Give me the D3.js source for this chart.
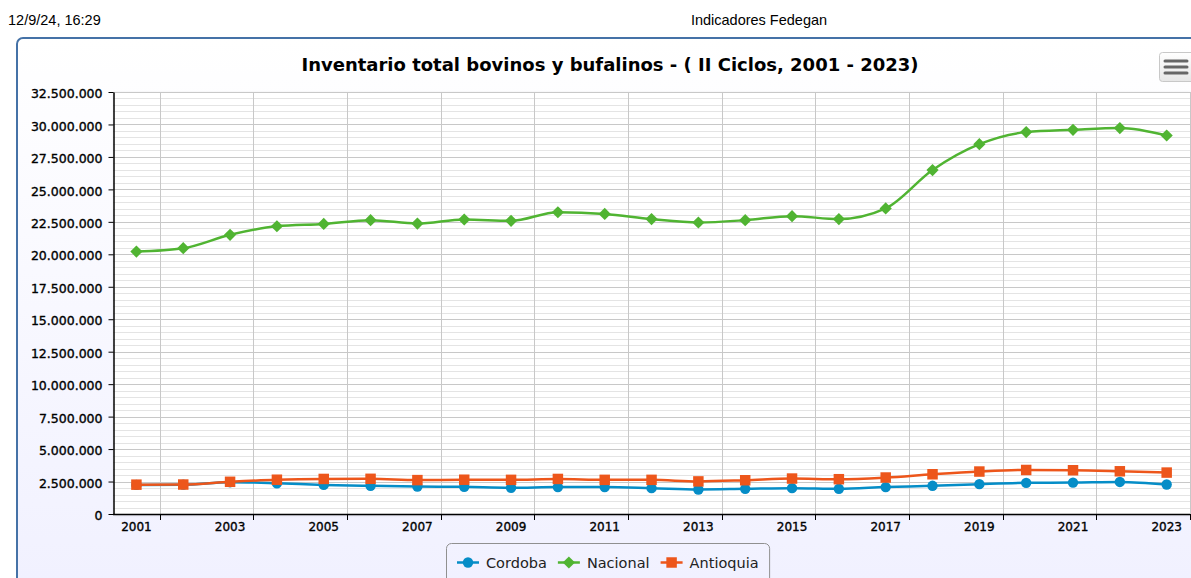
<!DOCTYPE html>
<html>
<head>
<meta charset="utf-8">
<style>
  body { margin: 0; background: #fff; }
  svg { display: block; }
  .lbl { stroke: #000; stroke-width: 0.35px; }
</style>
</head>
<body>
<script src="https://d3js.org/d3.v7.min.js"></script>
<script>

  // categories and series
  var years = ["2001", "2002", "2003", "2004", "2005", "2006", "2007", "2008",
               "2009", "2010", "2011", "2012", "2013", "2014", "2015", "2016",
               "2017", "2018", "2019", "2020", "2021", "2022", "2023"];

  var cordoba = [2240000, 2260000, 2450000, 2370000, 2240000, 2170000, 2120000, 2090000,
                 2020000, 2070000, 2070000, 1990000, 1890000, 1940000, 1990000, 1940000,
                 2070000, 2170000, 2300000, 2400000, 2420000, 2470000, 2270000];

  var nacional = [20210000, 20470000, 21500000, 22160000, 22340000, 22630000, 22370000, 22680000,
                  22580000, 23240000, 23110000, 22710000, 22450000, 22630000, 22940000, 22710000,
                  23530000, 26490000, 28480000, 29410000, 29590000, 29720000, 29150000];

  var antioquia = [2260000, 2270000, 2480000, 2640000, 2700000, 2710000, 2610000, 2640000,
                   2630000, 2700000, 2630000, 2630000, 2510000, 2600000, 2730000, 2680000,
                   2810000, 3060000, 3270000, 3390000, 3370000, 3290000, 3190000];

  var seriesNames = ["Cordoba", "Nacional", "Antioquia"];
  var seriesColors = ["#058DC7", "#50B432", "#ED561B"];
  var seriesSymbols = ["circle", "diamond", "square"];

  var yMax = 32500000;
  var yStep = 2500000;
  var yMinorStep = 500000;

  var width = 1191;
  var height = 578;
  var font = "'DejaVu Sans', Verdana, sans-serif";

  var plotLeft = 113, plotTop = 92, plotBottom = 514;
  var band = 46.83;

  var fmt = d3.formatLocale({decimal: ",", thousands: ".", grouping: [3], currency: ["$", ""]}).format(",d");

  var svg = d3.select("body").append("svg")
      .attr("width", width)
      .attr("height", height)
      .style("font-family", font);

  var defs = svg.append("defs");
  var grad = defs.append("linearGradient")
      .attr("id", "bg").attr("x1", 0).attr("y1", 0).attr("x2", 0).attr("y2", 1);
  grad.append("stop").attr("offset", "0%").attr("stop-color", "#ffffff");
  grad.append("stop").attr("offset", "100%").attr("stop-color", "#f0f0ff");

  var btnGrad = defs.append("linearGradient")
      .attr("id", "btn").attr("x1", 0).attr("y1", 0).attr("x2", 0).attr("y2", 1);
  btnGrad.append("stop").attr("offset", "0%").attr("stop-color", "#ffffff");
  btnGrad.append("stop").attr("offset", "100%").attr("stop-color", "#e6e6e6");

  var shadow = defs.append("filter").attr("id", "shadow")
      .attr("x", "-5%").attr("y", "-5%").attr("width", "110%").attr("height", "110%");
  shadow.append("feDropShadow").attr("dx", 1).attr("dy", 1).attr("stdDeviation", 1.5)
      .attr("flood-color", "#000").attr("flood-opacity", 0.15);

  // page header (print header)
  svg.append("text")
      .attr("x", 8).attr("y", 25)
      .style("font-family", "'Liberation Sans', Arial, sans-serif")
      .style("font-size", "14.5px")
      .text("12/9/24, 16:29");

  svg.append("text")
      .attr("x", 759).attr("y", 25)
      .attr("text-anchor", "middle")
      .style("font-family", "'Liberation Sans', Arial, sans-serif")
      .style("font-size", "14.5px")
      .text("Indicadores Fedegan");

  // chart box
  svg.append("rect")
      .attr("x", 17).attr("y", 38)
      .attr("width", 1200).attr("height", 580)
      .attr("rx", 6)
      .attr("fill", "url(#bg)")
      .attr("stroke", "#4572A7")
      .attr("stroke-width", 2);

  // title
  svg.append("text")
      .attr("x", 610).attr("y", 71)
      .attr("text-anchor", "middle")
      .style("font-size", "18px")
      .style("font-weight", "bold")
      .attr("fill", "#000")
      .text("Inventario total bovinos y bufalinos - ( II Ciclos, 2001 - 2023)");

  // menu button
  var btn = svg.append("g");
  btn.append("rect")
      .attr("x", 1159.5).attr("y", 52.5).attr("width", 36).attr("height", 29)
      .attr("rx", 3)
      .attr("fill", "url(#btn)")
      .attr("stroke", "#c8c8c8");
  [61, 67, 73].forEach(function (yy) {
    btn.append("line")
        .attr("x1", 1165).attr("x2", 1187).attr("y1", yy).attr("y2", yy)
        .attr("stroke", "#666").attr("stroke-width", 3).attr("stroke-linecap", "round");
  });

  // scales
  var x = d3.scaleBand()
      .domain(years)
      .range([plotLeft, plotLeft + band * years.length]);

  var y = d3.scaleLinear()
      .domain([0, yMax])
      .range([plotBottom, plotTop]);

  var plotRight = x.range()[1];

  function cx(d) { return x(d) + x.bandwidth() / 2; }

  // plot background
  svg.append("rect")
      .attr("x", plotLeft).attr("y", plotTop)
      .attr("width", plotRight - plotLeft).attr("height", plotBottom - plotTop)
      .attr("fill", "#ffffff")
      .attr("filter", "url(#shadow)");

  // minor grid
  var minorVals = d3.range(0, yMax + 1, yMinorStep).filter(function (v) { return v % yStep !== 0; });
  svg.append("g").selectAll("line")
      .data(minorVals)
      .enter().append("line")
      .attr("x1", plotLeft).attr("x2", plotRight)
      .attr("y1", function (d) { return Math.round(y(d)) + 0.5; })
      .attr("y2", function (d) { return Math.round(y(d)) + 0.5; })
      .attr("stroke", "#e4e4e4");

  // major grid
  var majorVals = d3.range(0, yMax + 1, yStep);
  svg.append("g").selectAll("line")
      .data(majorVals)
      .enter().append("line")
      .attr("x1", plotLeft).attr("x2", plotRight)
      .attr("y1", function (d) { return Math.round(y(d)) + 0.5; })
      .attr("y2", function (d) { return Math.round(y(d)) + 0.5; })
      .attr("stroke", "#c8c8c8");

  // vertical grid at band edges, every second category
  var xTickCats = years.filter(function (d, i) { return i % 2 === 0; });
  svg.append("g").selectAll("line")
      .data(xTickCats)
      .enter().append("line")
      .attr("x1", function (d) { return Math.round(x(d) + x.bandwidth()) + 0.5; })
      .attr("x2", function (d) { return Math.round(x(d) + x.bandwidth()) + 0.5; })
      .attr("y1", plotTop).attr("y2", plotBottom)
      .attr("stroke", "#c8c8c8");

  // y axis
  var yAxis = svg.append("g")
      .attr("transform", "translate(" + (plotLeft + 0.5) + ",0)")
      .call(d3.axisLeft(y).tickValues(majorVals).tickSize(5).tickSizeOuter(0).tickPadding(6).tickFormat(fmt));
  yAxis.select(".domain").attr("stroke", "#000").attr("stroke-width", 1.5);
  yAxis.selectAll(".tick line").attr("stroke", "#000");
  yAxis.selectAll(".tick text")
      .attr("class", "lbl")
      .attr("fill", "#000")
      .attr("dy", "0.45em")
      .style("font-size", "12.5px")
      .style("font-family", font);

  // x axis
  var xAxis = svg.append("g");
  xAxis.append("line")
      .attr("x1", plotLeft).attr("x2", plotRight)
      .attr("y1", plotBottom + 0.5).attr("y2", plotBottom + 0.5)
      .attr("stroke", "#000").attr("stroke-width", 1.5);
  xAxis.selectAll(".xt")
      .data(xTickCats)
      .enter().append("line")
      .attr("class", "xt")
      .attr("x1", function (d) { return Math.round(x(d) + x.bandwidth()) + 0.5; })
      .attr("x2", function (d) { return Math.round(x(d) + x.bandwidth()) + 0.5; })
      .attr("y1", plotBottom).attr("y2", plotBottom + 6)
      .attr("stroke", "#000");
  xAxis.selectAll("text")
      .data(xTickCats)
      .enter().append("text")
      .attr("class", "lbl")
      .attr("x", cx)
      .attr("y", plotBottom + 17)
      .attr("text-anchor", "middle")
      .style("font-size", "12px")
      .attr("fill", "#000")
      .text(function (d) { return d; });

  // series
  var allSeries = [cordoba, nacional, antioquia].map(function (vals, i) {
    return {
      name: seriesNames[i],
      color: seriesColors[i],
      symbol: seriesSymbols[i],
      points: years.map(function (yr, j) { return {year: yr, value: vals[j]}; })
    };
  });

  var line = d3.line()
      .x(function (d) { return cx(d.year); })
      .y(function (d) { return y(d.value); })
      .curve(d3.curveMonotoneX);

  var symbolGen = {
    circle: d3.symbol().type(d3.symbolCircle).size(85),
    diamond: d3.symbol().type(d3.symbolDiamond2).size(95),
    square: d3.symbol().type(d3.symbolSquare).size(110)
  };

  var plot = svg.append("g");
  allSeries.forEach(function (s) {
    var g = plot.append("g");
    g.append("path")
        .attr("d", line(s.points))
        .attr("fill", "none")
        .attr("stroke", s.color)
        .attr("stroke-width", 2.5);
    g.selectAll("path.m")
        .data(s.points)
        .enter().append("path")
        .attr("class", "m")
        .attr("d", symbolGen[s.symbol])
        .attr("transform", function (d) { return "translate(" + cx(d.year) + "," + y(d.value) + ")"; })
        .attr("fill", s.color);
  });

  // legend
  var legend = svg.append("g");
  var legendBox = legend.append("rect")
      .attr("x", 446.5).attr("y", 543.5)
      .attr("height", 45)
      .attr("rx", 5)
      .attr("fill", "none")
      .attr("stroke", "#909090");

  var lx = 457;
  allSeries.forEach(function (s) {
    var item = legend.append("g");
    item.append("line")
        .attr("x1", lx).attr("x2", lx + 22)
        .attr("y1", 562.5).attr("y2", 562.5)
        .attr("stroke", s.color).attr("stroke-width", 2.5);
    item.append("path")
        .attr("d", symbolGen[s.symbol])
        .attr("transform", "translate(" + (lx + 11) + ",562.5)")
        .attr("fill", s.color);
    var t = item.append("text")
        .attr("x", lx + 29).attr("y", 568)
        .style("font-size", "14.5px")
        .attr("fill", "#222")
        .text(s.name);
    lx += 29 + t.node().getComputedTextLength() + 11;
  });
  legendBox.attr("width", lx - 446.5);

</script>
</body>
</html>
